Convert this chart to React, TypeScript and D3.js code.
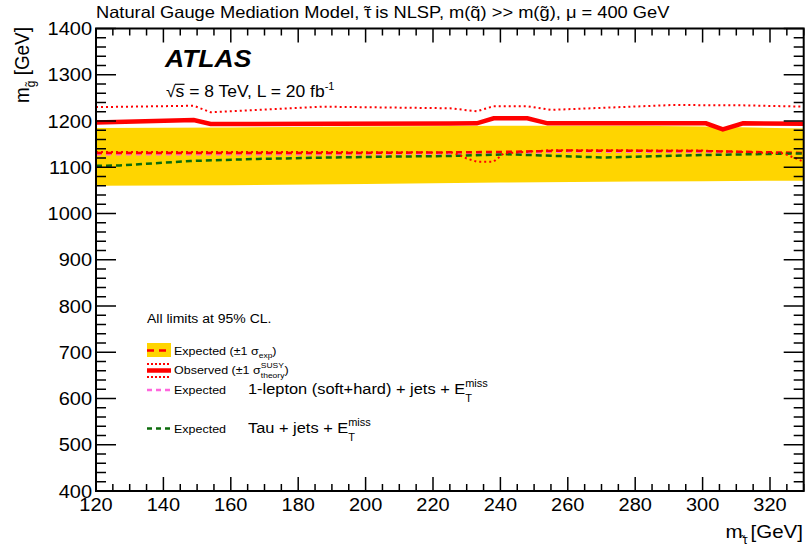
import { ReactNode } from "react";
import { scaleLinear, line, area, range } from "d3";

// squash factor: the picture looks like an 800x600 canvas pressed into 806x554
const SQ = 0.923;
const FONT = "'Liberation Sans', Arial, Helvetica, sans-serif";

// axis ticks
const xMajor = range(120, 331, 20);
const xMinor = range(120, 331, 5);
const yMajor = range(400, 1401, 100);
const yMinor = range(400, 1401, 20);

// observed limit
const obsM = [120, 149, 154, 190, 225, 233, 238, 248, 254, 301, 306, 312, 330];
const obsG = [1197, 1202, 1193.5, 1194, 1194.5, 1195, 1206, 1206, 1195, 1195, 1182, 1195, 1194];

// observed +1 sigma theory
const obsUpM = [120, 149, 154, 187, 225, 233, 238, 248, 255, 291, 311, 330];
const obsUpG = [1230, 1233, 1219, 1231, 1227.5, 1221, 1232, 1232, 1224, 1234.5, 1234, 1231];

// observed -1 sigma theory
const obsDnM = [120, 180, 226, 230, 233, 238, 241, 255, 300, 324, 330];
const obsDnG = [1133, 1133, 1132, 1119, 1112, 1112, 1130, 1137, 1136, 1130, 1112];

// expected limit and +-1 sigma exp band
const expM = [120, 160, 200, 240, 260, 300, 330];
const expG = [1131, 1131, 1131, 1133, 1136, 1135, 1131];
const bandM = [120, 160, 200, 240, 280, 300, 330];
const bandUp = [1185, 1186, 1188, 1190, 1190, 1188, 1184];
const bandDn = [1060, 1061, 1064, 1067, 1069, 1070, 1071];

// 1-lepton expected
const lepM = [120, 160, 200, 240, 260, 300, 330];
const lepG = [1128, 1128, 1128, 1130, 1134, 1133, 1130];

// tau expected
const tauM = [120, 127, 148, 168, 187, 207, 225, 242, 271, 301, 330];
const tauG = [1103, 1104, 1113.5, 1118, 1120.7, 1123, 1124.3, 1128, 1121, 1126.5, 1130];

const left = 96;
const right = 803.7;
const top = 28.5;
const bottom = 491;

const x = scaleLinear().domain([120, 330]).range([left, right]);
const y = scaleLinear().domain([400, 1400]).range([bottom, top]);

const pts = (ms: number[], gs: number[]) => ms.map((m, i) => [m, gs[i]] as [number, number]);
const path = line<[number, number]>().x((d) => x(d[0])).y((d) => y(d[1]));

interface TxtProps {
    x: number;
    y: number;
    size: number;
    anchor?: string;
    weight?: string;
    italic?: boolean;
    rotate?: boolean;
    dy?: string;
    children: ReactNode;
}

function Txt({ x, y, size, anchor = "start", weight, italic, rotate, dy, children }: TxtProps) {
    return (
        <g transform={`translate(${x},${y}) scale(1,${SQ})${rotate ? " rotate(-90)" : ""}`}>
            <text
                fontFamily={FONT}
                fontSize={size}
                textAnchor={anchor}
                fontWeight={weight}
                fontStyle={italic ? "italic" : undefined}
                dy={dy}
                fill="#000"
            >
                {children}
            </text>
        </g>
    );
}

export default function App() {
    const band = area<number>()
        .x((_, i) => x(bandM[i]))
        .y0((_, i) => y(bandDn[i]))
        .y1((_, i) => y(bandUp[i]));

    return (
        <svg
            width={806}
            height={554}
            style={{ position: "absolute", left: 0, top: 0, display: "block", background: "#fff" }}
        >
            <defs>
                <clipPath id="plot">
                    <rect x={left} y={top} width={right - left} height={bottom - top} />
                </clipPath>
            </defs>

            <g clipPath="url(#plot)">
                <path d={band(bandM) ?? ""} fill="#ffd500" />
                <path d={path(pts(lepM, lepG)) ?? ""} fill="none" stroke="#ff66dd" strokeWidth={2.5} strokeDasharray="5 5" />
                <path d={path(pts(expM, expG)) ?? ""} fill="none" stroke="#ff0000" strokeWidth={2.5} strokeDasharray="6 4" />
                <path d={path(pts(tauM, tauG)) ?? ""} fill="none" stroke="#0b6b0b" strokeWidth={2.5} strokeDasharray="6 4" />
                <path d={path(pts(obsUpM, obsUpG)) ?? ""} fill="none" stroke="#ff0000" strokeWidth={2} strokeDasharray="2 3" />
                <path d={path(pts(obsDnM, obsDnG)) ?? ""} fill="none" stroke="#ff0000" strokeWidth={2} strokeDasharray="2 3" />
                <path d={path(pts(obsM, obsG)) ?? ""} fill="none" stroke="#ff0000" strokeWidth={4.5} />
            </g>

            {/* frame */}
            <rect x={left} y={top} width={right - left} height={bottom - top} fill="none" stroke="#000" strokeWidth={2} />

            {/* x ticks, bottom and top */}
            {xMinor.map((m) => {
                const major = m % 20 === 0;
                const len = major ? 14 : 7;
                return (
                    <g key={`xt-${m}`} stroke="#000" strokeWidth={1.5}>
                        <line x1={x(m)} x2={x(m)} y1={bottom} y2={bottom - len} />
                        <line x1={x(m)} x2={x(m)} y1={top} y2={top + len} />
                    </g>
                );
            })}
            {/* y ticks, left and right */}
            {yMinor.map((v) => {
                const major = v % 100 === 0;
                const len = major ? 20 : 10;
                return (
                    <g key={`yt-${v}`} stroke="#000" strokeWidth={1.5}>
                        <line x1={left} x2={left + len} y1={y(v)} y2={y(v)} />
                        <line x1={right} x2={right - len} y1={y(v)} y2={y(v)} />
                    </g>
                );
            })}

            {xMajor.map((m) => (
                <Txt key={`xl-${m}`} x={x(m)} y={511} size={20} anchor="middle">
                    {m}
                </Txt>
            ))}
            {yMajor.map((v) => (
                <Txt key={`yl-${v}`} x={92} y={y(v)} size={20} anchor="end" dy="0.36em">
                    {v}
                </Txt>
            ))}

            {/* axis titles */}
            <Txt x={803} y={538} size={20.5} anchor="end">
                m<tspan fontSize={13} dy={6}>{"\u03C4"}</tspan>
                <tspan fontSize={11} dx={-6.5} dy={-1}>{"\u02DC"}</tspan>
                <tspan dy={-5}> [GeV]</tspan>
            </Txt>
            <Txt x={29} y={27} size={20.5} anchor="end" rotate>
                m<tspan fontSize={13} dy={6}>{"g\u0303"}</tspan>
                <tspan dy={-6}> [GeV]</tspan>
            </Txt>

            {/* title */}
            <Txt x={96} y={18} size={18.3}>
                {"Natural Gauge Mediation Model, \u03C4"}
                <tspan dx={-7.5}>{"\u02DC"}</tspan>
                <tspan>{" is NLSP, m(q\u0303) >> m(g\u0303), \u03BC = 400 GeV"}</tspan>
            </Txt>

            {/* ATLAS label */}
            <Txt x={165} y={66.5} size={26.5} weight="bold" italic>
                ATLAS
            </Txt>
            <Txt x={166} y={96.5} size={17.5}>
                {"\u221As = 8 TeV, L = 20 fb"}
                <tspan fontSize={11} dy={-7}>-1</tspan>
            </Txt>
            <line x1={175} x2={184.5} y1={84.3} y2={84.3} stroke="#000" strokeWidth={1.2} />

            {/* legend */}
            <Txt x={147} y={323} size={14}>
                All limits at 95% CL.
            </Txt>

            <rect x={147} y={343} width={24} height={14} fill="#ffd500" />
            <line x1={147} x2={171} y1={350.5} y2={350.5} stroke="#ff0000" strokeWidth={2.5} strokeDasharray="7 5" />
            <Txt x={174} y={355} size={12.5}>
                {"Expected (\u00B11 \u03C3"}
                <tspan fontSize={8.5} dy={3}>exp</tspan>
                <tspan dy={-3}>)</tspan>
            </Txt>

            <line x1={147} x2={171} y1={364} y2={364} stroke="#ff0000" strokeWidth={2} strokeDasharray="2 2" />
            <line x1={147} x2={171} y1={370.5} y2={370.5} stroke="#ff0000" strokeWidth={4.5} />
            <line x1={147} x2={171} y1={377} y2={377} stroke="#ff0000" strokeWidth={2} strokeDasharray="2 2" />
            <Txt x={174} y={374} size={12.5}>
                {"Observed (\u00B11 \u03C3"}
                <tspan fontSize={8.5} dy={-6}>SUSY</tspan>
                <tspan fontSize={8.5} dx={-23} dy={10}>theory</tspan>
                <tspan dy={-4}>)</tspan>
            </Txt>

            <line x1={147} x2={171} y1={390} y2={390} stroke="#ff66dd" strokeWidth={2.5} strokeDasharray="5 4" />
            <Txt x={174} y={394} size={12.5}>
                Expected
            </Txt>
            <Txt x={248} y={394} size={16.4}>
                1-lepton (soft+hard) + jets + E
                <tspan fontSize={11} dy={-8}>miss</tspan>
                <tspan fontSize={11} dx={-22.6} dy={17}>T</tspan>
            </Txt>

            <line x1={147} x2={171} y1={428.5} y2={428.5} stroke="#0b6b0b" strokeWidth={2.5} strokeDasharray="5 4" />
            <Txt x={174} y={433} size={12.5}>
                Expected
            </Txt>
            <Txt x={248} y={433} size={16.4}>
                Tau + jets + E
                <tspan fontSize={11} dy={-8}>miss</tspan>
                <tspan fontSize={11} dx={-22.6} dy={17}>T</tspan>
            </Txt>
        </svg>
    );
}
